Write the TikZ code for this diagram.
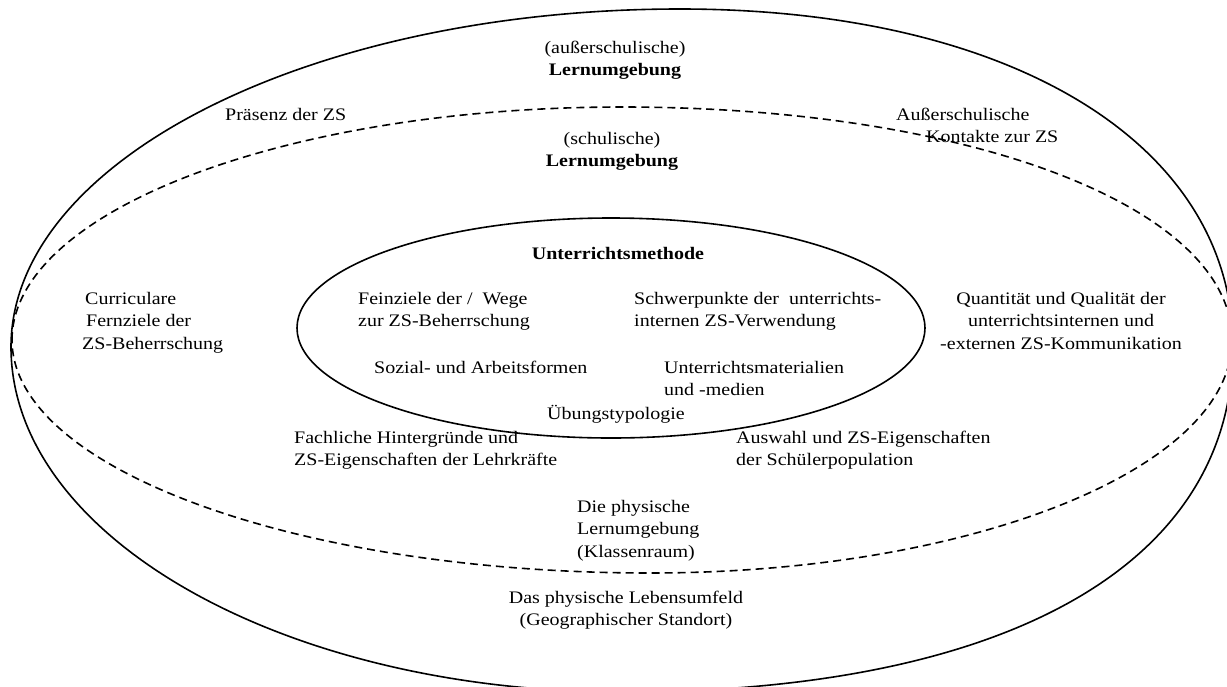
\documentclass[tikz,border=0pt]{standalone}
\usepackage{fontspec}
\setmainfont{Liberation Serif}[FakeStretch=1.136]
\begin{document}
\begin{tikzpicture}[x=1pt,y=-1pt,
  txt/.style={font=\fontsize{17.6}{22.5}\selectfont, inner sep=0pt},
  ring/.style={line width=1.6pt, line join=round},
  dashring/.style={line width=1.6pt, dash pattern=on 8pt off 5pt}]
\useasboundingbox (0,0) rectangle (1227,686);
\clip (0,0) rectangle (1227,686);
\fill[white] (0,0) rectangle (1227,686);
% outer ring (außerschulische Lernumgebung)
\draw[ring] (11,347)
  .. controls (11,160.3) and (310.5,9) .. (680,9)
  .. controls (1011.8,9) and (1233,144.2) .. (1233,347)
  .. controls (1233,564.4) and (1007,692) .. (622,692)
  .. controls (284.5,692) and (11,537.5) .. (11,347) -- cycle;
% dashed ring (schulische Lernumgebung)
\draw[dashring] (12,340)
  .. controls (12,211.3) and (285.1,107) .. (622,107)
  .. controls (969.7,107) and (1232,207.2) .. (1232,340)
  .. controls (1232,468.7) and (971.4,573) .. (650,573)
  .. controls (297.6,573) and (12,468.7) .. (12,340) -- cycle;
% inner ring (Unterrichtsmethode)
\draw[ring] (611,328) ellipse [x radius=314, y radius=110];
% outer labels (base anchor = baseline of last line)
\node[txt, anchor=base, align=center] (aussen) at (615,75.5) {(außerschulische)\\\textbf{Lernumgebung}};
\node[txt, anchor=base west] (praesenz) at (225,120) {Präsenz der ZS};
\node[txt, anchor=base west, align=left] (kontakte) at (896,142.5) {Außerschulische\\\hspace*{30pt}Kontakte zur ZS};
% school labels
\node[txt, anchor=base, align=center] (schul) at (612,166.5) {(schulische)\\\textbf{Lernumgebung}};
\node[txt, anchor=base west, align=left] (curr) at (82,349) {\hspace*{3pt}Curriculare\\\hspace*{4pt}Fernziele der\\ZS-Beherrschung};
\node[txt, anchor=base, align=center] (quant) at (1061,349) {Quantität und Qualität der\\unterrichtsinternen und\\-externen ZS-Kommunikation};
\node[txt, anchor=base west, align=left] (fach) at (294,465.5) {Fachliche Hintergründe und\\ZS-Eigenschaften der Lehrkräfte};
\node[txt, anchor=base west, align=left] (auswahl) at (736,465.5) {Auswahl und ZS-Eigenschaften\\der Schülerpopulation};
\node[txt, anchor=base west, align=left] (physisch) at (577,557) {Die physische\\Lernumgebung\\(Klassenraum)};
\node[txt, anchor=base, align=center] (leben) at (626,625.5) {Das physische Lebensumfeld\\(Geographischer Standort)};
% method labels
\node[txt, anchor=base] (methode) at (618,259) {\textbf{Unterrichtsmethode}};
\node[txt, anchor=base west, align=left] (fein) at (358,326.5) {Feinziele der /\ \ Wege\\zur ZS-Beherrschung};
\node[txt, anchor=base west, align=left] (schwer) at (634,326.5) {Schwerpunkte der\ \ unterrichts-\\internen ZS-Verwendung};
\node[txt, anchor=base west] (sozial) at (374,373) {Sozial- und Arbeitsformen};
\node[txt, anchor=base west, align=left] (material) at (664,395.5) {Unterrichtsmaterialien\\und -medien};
\node[txt, anchor=base] (uebung) at (616,419) {Übungstypologie};
\end{tikzpicture}
\end{document}
